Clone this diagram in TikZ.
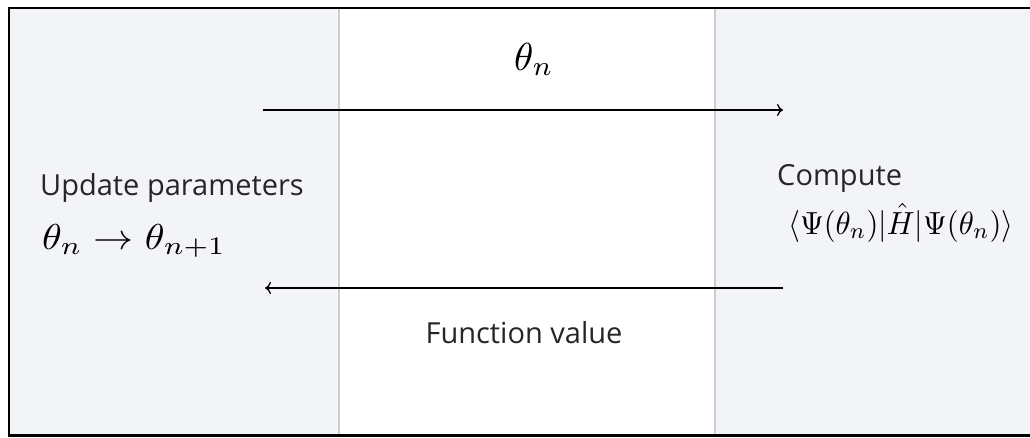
\documentclass[tikz,border=0pt]{standalone}
\usepackage{fontspec}
\setmainfont{Open Sans}
\usetikzlibrary{arrows.meta}
\definecolor{panel}{HTML}{F2F4F8}
\definecolor{divider}{HTML}{C9CED4}
\definecolor{txt}{HTML}{262626}
\tikzset{
  lbl/.style={font=\fontsize{29}{34}\selectfont, text=txt, inner sep=0pt, anchor=base west},
  mth/.style={inner sep=0pt, anchor=base west},
  flow/.style={line width=1.3pt, -{To[length=6pt,width=12pt]}, black},
}
\begin{document}
\begin{tikzpicture}[x=1pt,y=-1pt]
\useasboundingbox (0,0) rectangle (1030,437);
\fill[white] (0,0) rectangle (1030,437);
\fill[panel] (9,8) rectangle (339,435);
\fill[panel] (715,8) rectangle (1030,435);
\draw[divider, line width=2pt] (339,8) -- (339,435);
\draw[divider, line width=2pt] (715,8) -- (715,435);
\begin{scope}
\clip (0,0) rectangle (1030,437);
\draw[black, line width=2.5pt] (9,8) rectangle (1045,435.5);
\end{scope}
% texts
\node[mth, anchor=base] (top) at (534,70) {\scalebox{3.9}{$\theta_n$}};
\node[lbl] (upd) at (40,195) {Update parameters};
\node[mth] (updm) at (42,249) {\scalebox{4.0}[3.6]{$\theta_n \to \theta_{n+1}$}};
\node[lbl] (comp) at (777,185) {Compute};
\node[mth] (compm) at (788,234) {\scalebox{3.05}[3.2]{$\langle\Psi(\theta_n)|\hat{H}|\Psi(\theta_n)\rangle$}};
\node[lbl, anchor=base] (fv) at (524,343) {Function value};
% arrows
\coordinate (a1) at (263,110);
\coordinate (b1) at (783,110);
\coordinate (a2) at (783,288);
\coordinate (b2) at (265,288);
\draw[flow] (a1) -- (b1);
\draw[flow] (a2) -- (b2);
\end{tikzpicture}
\end{document}
